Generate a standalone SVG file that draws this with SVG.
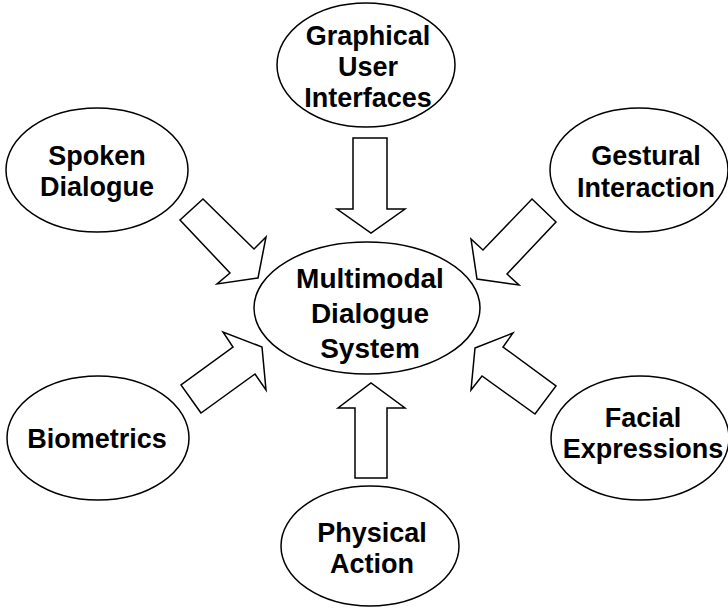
<svg xmlns="http://www.w3.org/2000/svg" width="728" height="608" viewBox="0 0 728 608">
<style>
  .n ellipse { fill: #ffffff; stroke: #000000; stroke-width: 1.5; }
  .n text { font-family: "Liberation Sans", Arial, sans-serif; font-weight: bold; font-size: 27px; fill: #000000; text-anchor: middle; }
  #center text { font-size: 28px; }
  #connectors polygon { fill: #ffffff; stroke: #000000; stroke-width: 1.5; stroke-linejoin: miter; }
</style>
<rect width="728" height="608" fill="#ffffff"/>
<g id="connectors">
  <polygon points="353,138 387,138 387,209 405,209 371,233 337,209 353,209"/>
  <polygon points="203,199 254,249 266,237 258,278 217,284 230,273 180,220"/>
  <polygon points="532,199 556,222 507,274 519,285 477,279 471,239 483,250"/>
  <polygon points="201,413 181,385 233,347 223,332 262,347 266,390 255,374"/>
  <polygon points="475,348 513,333 503,347 556,386 535,414 482,376 471,390"/>
  <polygon points="355,478 387,478 387,408 405,408 371,383 338,408 355,408"/>
</g>
<g id="center" class="n">
  <ellipse cx="367" cy="308" rx="113" ry="66"/>
  <text x="370" y="288">Multimodal</text>
  <text x="370" y="323">Dialogue</text>
  <text x="370" y="358">System</text>
</g>
<g id="gui" class="n">
  <ellipse cx="366" cy="65" rx="89" ry="62"/>
  <text x="368" y="45">Graphical</text>
  <text x="368" y="76">User</text>
  <text x="368" y="107">Interfaces</text>
</g>
<g id="spoken" class="n">
  <ellipse cx="97" cy="170" rx="91" ry="62"/>
  <text x="97" y="165">Spoken</text>
  <text x="97" y="196">Dialogue</text>
</g>
<g id="gestural" class="n">
  <ellipse cx="639" cy="170" rx="89" ry="62"/>
  <text x="646" y="165">Gestural</text>
  <text x="646" y="197">Interaction</text>
</g>
<g id="biometrics" class="n">
  <ellipse cx="98" cy="438" rx="91" ry="62"/>
  <text x="97" y="448">Biometrics</text>
</g>
<g id="facial" class="n">
  <ellipse cx="640" cy="438" rx="89" ry="62"/>
  <text x="643" y="427">Facial</text>
  <text x="643" y="458">Expressions</text>
</g>
<g id="physical" class="n">
  <ellipse cx="370" cy="546" rx="89" ry="60"/>
  <text x="372" y="542">Physical</text>
  <text x="372" y="573">Action</text>
</g>
</svg>
